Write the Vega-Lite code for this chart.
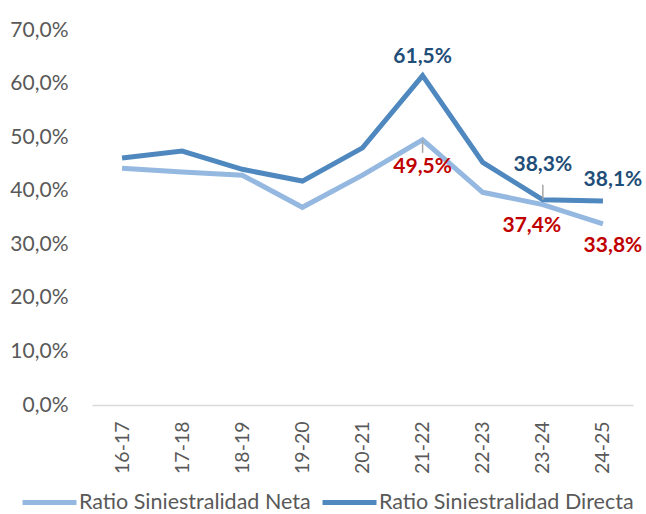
{
  "$schema": "https://vega.github.io/schema/vega-lite/v6.json",
  "width": 541,
  "height": 375,
  "autosize": {"type": "none"},
  "padding": {"left": 92, "top": 30, "right": 13, "bottom": 109},
  "config": {
    "locale": {"number": {"decimal": ",", "thousands": ".", "grouping": [3], "currency": ["", " €"]}},
    "font": "Lato",
    "view": {"stroke": null},
    "background": "white"
  },
  "data": {
    "values": [
      {"periodo": "16-17", "serie": "Ratio Siniestralidad Neta", "valor": 0.442},
      {"periodo": "17-18", "serie": "Ratio Siniestralidad Neta", "valor": 0.435},
      {"periodo": "18-19", "serie": "Ratio Siniestralidad Neta", "valor": 0.429},
      {"periodo": "19-20", "serie": "Ratio Siniestralidad Neta", "valor": 0.369},
      {"periodo": "20-21", "serie": "Ratio Siniestralidad Neta", "valor": 0.429},
      {"periodo": "21-22", "serie": "Ratio Siniestralidad Neta", "valor": 0.495},
      {"periodo": "22-23", "serie": "Ratio Siniestralidad Neta", "valor": 0.397},
      {"periodo": "23-24", "serie": "Ratio Siniestralidad Neta", "valor": 0.374},
      {"periodo": "24-25", "serie": "Ratio Siniestralidad Neta", "valor": 0.338},
      {"periodo": "16-17", "serie": "Ratio Siniestralidad Directa", "valor": 0.461},
      {"periodo": "17-18", "serie": "Ratio Siniestralidad Directa", "valor": 0.474},
      {"periodo": "18-19", "serie": "Ratio Siniestralidad Directa", "valor": 0.440},
      {"periodo": "19-20", "serie": "Ratio Siniestralidad Directa", "valor": 0.418},
      {"periodo": "20-21", "serie": "Ratio Siniestralidad Directa", "valor": 0.480},
      {"periodo": "21-22", "serie": "Ratio Siniestralidad Directa", "valor": 0.615},
      {"periodo": "22-23", "serie": "Ratio Siniestralidad Directa", "valor": 0.453},
      {"periodo": "23-24", "serie": "Ratio Siniestralidad Directa", "valor": 0.383},
      {"periodo": "24-25", "serie": "Ratio Siniestralidad Directa", "valor": 0.381}
    ]
  },
  "encoding": {
    "x": {
      "field": "periodo",
      "type": "ordinal",
      "scale": {"type": "point", "padding": 0.5},
      "axis": {
        "title": null,
        "labelAngle": -90,
        "labelFontSize": 19.5,
        "labelColor": "#595959",
        "labelPadding": 16,
        "ticks": false,
        "domainColor": "#d9d9d9",
        "domainWidth": 1.5
      }
    },
    "y": {
      "field": "valor",
      "type": "quantitative",
      "scale": {"domain": [0, 0.7]},
      "axis": {
        "title": null,
        "format": ".1%",
        "values": [0, 0.1, 0.2, 0.3, 0.4, 0.5, 0.6, 0.7],
        "labelOverlap": false,
        "labelFlush": false,
        "grid": false,
        "domain": false,
        "ticks": false,
        "labelFontSize": 21,
        "labelColor": "#595959",
        "labelPadding": 24
      }
    }
  },
  "layer": [
    {
      "mark": {"type": "line", "strokeWidth": 5, "strokeJoin": "miter"},
      "encoding": {
        "color": {
          "field": "serie",
          "type": "nominal",
          "sort": ["Ratio Siniestralidad Neta", "Ratio Siniestralidad Directa"],
          "scale": {"domain": ["Ratio Siniestralidad Neta", "Ratio Siniestralidad Directa"], "range": ["#95b8e0", "#4f88bf"]},
          "legend": {
            "title": null,
            "orient": "none",
            "direction": "horizontal",
            "legendX": -72,
            "legendY": 443,
            "symbolType": "stroke",
            "symbolStrokeWidth": 5,
            "symbolSize": 2916,
            "labelFontSize": 21.5,
            "labelColor": "#595959",
            "labelOffset": 0,
            "columnPadding": 1,
            "labelLimit": 400
          }
        }
      }
    },
    {
      "transform": [{"filter": "datum.serie === 'Ratio Siniestralidad Neta' && datum.periodo === '21-22'"}],
      "mark": {"type": "rule", "color": "#a6a6a6", "strokeWidth": 1.5, "y2Offset": 13},
      "encoding": {"y2": {"field": "valor"}}
    },
    {
      "transform": [{"filter": "datum.serie === 'Ratio Siniestralidad Directa' && datum.periodo === '23-24'"}],
      "mark": {"type": "rule", "color": "#a6a6a6", "strokeWidth": 1.5, "y2Offset": -15},
      "encoding": {"y2": {"field": "valor"}}
    },
    {
      "transform": [{"filter": "datum.serie === 'Ratio Siniestralidad Directa' && datum.periodo === '21-22'"}],
      "mark": {"type": "text", "dy": -19, "fontSize": 21, "fontWeight": "bold", "color": "#1f4e79"},
      "encoding": {"text": {"field": "valor", "type": "quantitative", "format": ".1%"}}
    },
    {
      "transform": [{"filter": "datum.serie === 'Ratio Siniestralidad Directa' && datum.periodo === '23-24'"}],
      "mark": {"type": "text", "dy": -35, "fontSize": 21, "fontWeight": "bold", "color": "#1f4e79"},
      "encoding": {"text": {"field": "valor", "type": "quantitative", "format": ".1%"}}
    },
    {
      "transform": [{"filter": "datum.serie === 'Ratio Siniestralidad Directa' && datum.periodo === '24-25'"}],
      "mark": {"type": "text", "dx": 10, "dy": -21, "fontSize": 21, "fontWeight": "bold", "color": "#1f4e79"},
      "encoding": {"text": {"field": "valor", "type": "quantitative", "format": ".1%"}}
    },
    {
      "transform": [{"filter": "datum.serie === 'Ratio Siniestralidad Neta' && datum.periodo === '21-22'"}],
      "mark": {"type": "text", "dy": 27, "fontSize": 21, "fontWeight": "bold", "color": "#c00000"},
      "encoding": {"text": {"field": "valor", "type": "quantitative", "format": ".1%"}}
    },
    {
      "transform": [{"filter": "datum.serie === 'Ratio Siniestralidad Neta' && datum.periodo === '23-24'"}],
      "mark": {"type": "text", "dx": -11, "dy": 21, "fontSize": 21, "fontWeight": "bold", "color": "#c00000"},
      "encoding": {"text": {"field": "valor", "type": "quantitative", "format": ".1%"}}
    },
    {
      "transform": [{"filter": "datum.serie === 'Ratio Siniestralidad Neta' && datum.periodo === '24-25'"}],
      "mark": {"type": "text", "dx": 10, "dy": 22, "fontSize": 21, "fontWeight": "bold", "color": "#c00000"},
      "encoding": {"text": {"field": "valor", "type": "quantitative", "format": ".1%"}}
    }
  ]
}
